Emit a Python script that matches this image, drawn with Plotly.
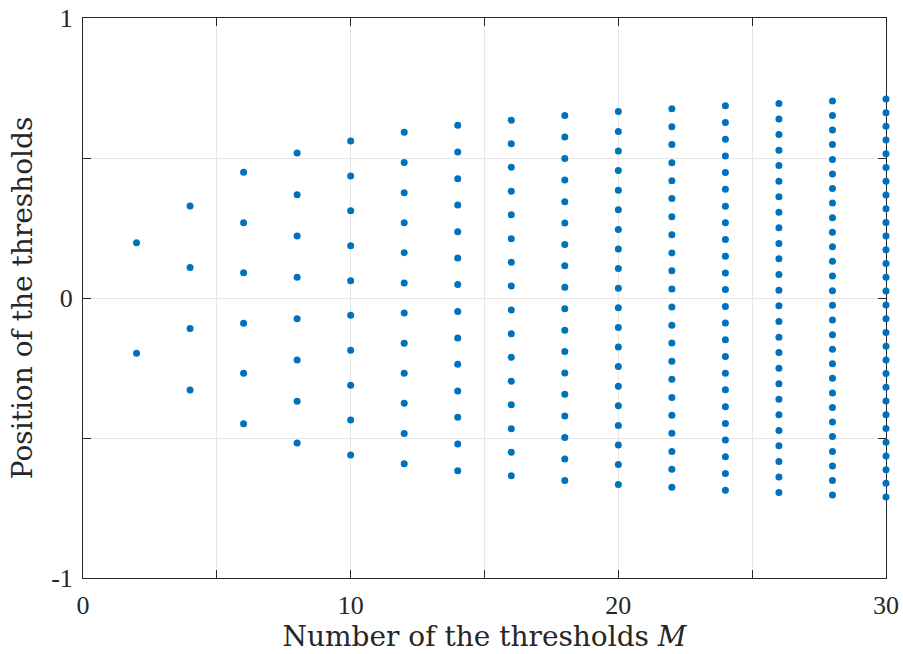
import plotly.graph_objects as go

# Threshold counts M
M_values = [2, 4, 6, 8, 10, 12, 14, 16, 18, 20, 22, 24, 26, 28, 30]

# Positions of thresholds for each M (top to bottom)
thr_2 = [0.197, -0.197]
thr_4 = [0.329, 0.109, -0.109, -0.329]
thr_6 = [0.449, 0.269, 0.090, -0.090, -0.269, -0.449]
thr_8 = [0.518, 0.369, 0.221, 0.074, -0.074, -0.221, -0.369, -0.518]
thr_10 = [0.561, 0.436, 0.312, 0.187, 0.062, -0.062, -0.187, -0.312, -0.436, -0.561]
thr_12 = [0.592, 0.484, 0.376, 0.269, 0.162, 0.054, -0.054, -0.162, -0.269, -0.376, -0.484, -0.592]
thr_14 = [0.617, 0.521, 0.426, 0.332, 0.237, 0.143, 0.048,
          -0.048, -0.143, -0.237, -0.332, -0.426, -0.521, -0.617]
thr_16 = [0.635, 0.551, 0.467, 0.381, 0.297, 0.212, 0.128, 0.043,
          -0.043, -0.128, -0.212, -0.297, -0.381, -0.467, -0.551, -0.635]
thr_18 = [0.652, 0.575, 0.498, 0.421, 0.344, 0.268, 0.191, 0.115, 0.038,
          -0.038, -0.115, -0.191, -0.268, -0.344, -0.421, -0.498, -0.575, -0.652]
thr_20 = [0.666, 0.595, 0.525, 0.455, 0.385, 0.315, 0.245, 0.175, 0.105, 0.035,
          -0.035, -0.105, -0.175, -0.245, -0.315, -0.385, -0.455, -0.525, -0.595, -0.666]
thr_22 = [0.676, 0.612, 0.548, 0.483, 0.419, 0.355, 0.290, 0.226, 0.161, 0.097, 0.032,
          -0.032, -0.097, -0.161, -0.226, -0.290, -0.355, -0.419, -0.483, -0.548, -0.612, -0.676]
thr_24 = [0.687, 0.627, 0.567, 0.507, 0.448, 0.388, 0.328, 0.269, 0.209, 0.149, 0.089, 0.030,
          -0.030, -0.089, -0.149, -0.209, -0.269, -0.328, -0.388, -0.448, -0.507, -0.567, -0.627, -0.687]
thr_26 = [0.695, 0.639, 0.584, 0.528, 0.473, 0.417, 0.362, 0.306, 0.251, 0.195, 0.140, 0.084, 0.028,
          -0.028, -0.084, -0.140, -0.195, -0.251, -0.306, -0.362, -0.417, -0.473, -0.528, -0.584, -0.639, -0.695]
thr_28 = [0.704, 0.652, 0.600, 0.548, 0.495, 0.443, 0.391, 0.339, 0.287, 0.235, 0.183, 0.131, 0.079, 0.026,
          -0.026, -0.079, -0.131, -0.183, -0.235, -0.287, -0.339, -0.391, -0.443, -0.495, -0.548, -0.600, -0.652, -0.704]
thr_30 = [0.711, 0.662, 0.613, 0.564, 0.515, 0.466, 0.417, 0.368, 0.319, 0.270, 0.221, 0.172, 0.123, 0.074, 0.025,
          -0.025, -0.074, -0.123, -0.172, -0.221, -0.270, -0.319, -0.368, -0.417, -0.466, -0.515, -0.564, -0.613, -0.662, -0.711]

thresholds = [thr_2, thr_4, thr_6, thr_8, thr_10, thr_12, thr_14, thr_16,
              thr_18, thr_20, thr_22, thr_24, thr_26, thr_28, thr_30]

x_tick_vals = [0, 5, 10, 15, 20, 25, 30]
x_tick_text = ["0", "", "10", "", "20", "", "30"]
y_tick_vals = [-1, -0.5, 0, 0.5, 1]
y_tick_text = ["-1", "", "0", "", "1"]

xs, ys = [], []
for m, t in zip(M_values, thresholds):
    xs.extend([m] * len(t))
    ys.extend(t)

fig = go.Figure()
fig.add_trace(go.Scatter(
    x=xs, y=ys, mode="markers",
    marker=dict(color="#0072BD", size=7, line=dict(width=0)),
    cliponaxis=False, showlegend=False,
))

tick_family = "Liberation Serif"
title_family = "DejaVu Serif"
axis_color = "#262626"

fig.update_layout(
    width=903, height=654,
    margin=dict(l=83, r=17, t=18, b=76, autoexpand=False),
    paper_bgcolor="white", plot_bgcolor="white",
    font=dict(family=tick_family, size=26, color=axis_color),
)
fig.update_xaxes(
    range=[0, 30], tickvals=x_tick_vals, ticktext=x_tick_text,
    showgrid=True, gridcolor="#e6e6e6", gridwidth=1,
    showline=True, linecolor=axis_color, linewidth=1, mirror="ticks",
    ticks="inside", ticklen=8, tickcolor=axis_color,
    zeroline=False, layer="below traces", automargin=False,
    ticklabelstandoff=4,
    title=dict(text="Number of the thresholds <i>M</i>",
               font=dict(family=title_family, size=28, color=axis_color), standoff=2),
    tickfont=dict(family=tick_family, size=26, color=axis_color),
)
fig.update_yaxes(
    range=[-1, 1], tickvals=y_tick_vals, ticktext=y_tick_text,
    showgrid=True, gridcolor="#e6e6e6", gridwidth=1,
    showline=True, linecolor=axis_color, linewidth=1, mirror="ticks",
    ticks="inside", ticklen=8, tickcolor=axis_color,
    zeroline=False, layer="below traces", automargin=False,
    ticklabelstandoff=4,
    title=dict(text="Position of the thresholds",
               font=dict(family=title_family, size=28, color=axis_color), standoff=10),
    tickfont=dict(family=tick_family, size=26, color=axis_color),
)

fig.write_html("out.html")
